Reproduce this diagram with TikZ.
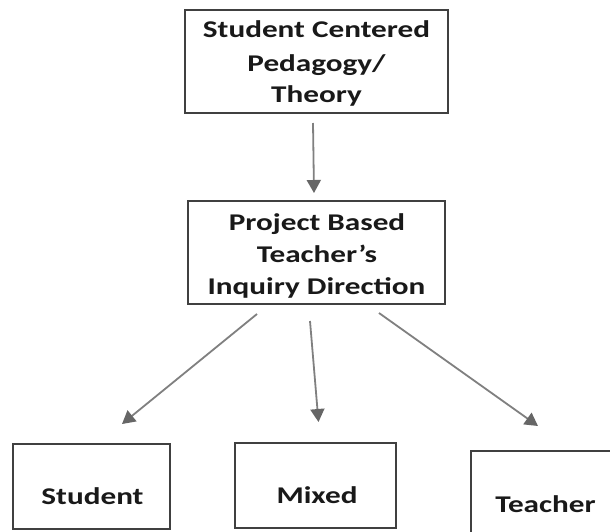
\documentclass[tikz,border=0pt]{standalone}
\usepackage{fontspec}
\setmainfont{Carlito}[FakeStretch=1.3]
\usetikzlibrary{arrows.meta}
\begin{document}
\begin{tikzpicture}[x=1pt,y=-1pt,
  boxshape/.style={draw=black!75, line width=1.6pt, inner sep=0pt, fill=white},
  lbl/.style={font=\fontsize{24}{24}\selectfont\bfseries, text=black!90, inner sep=0pt, anchor=base},
  flow/.style={draw=black!50, line width=1.8pt,
    -{Triangle[length=13pt,width=14pt,color=black!60,fill=black!60]}}]
  \clip (0,0) rectangle (610,531);
  \fill[white] (0,0) rectangle (610,531);

  % boxes
  \node[boxshape, minimum width=263pt, minimum height=103pt] (theory) at (316.5,61.5) {};
  \node[boxshape, minimum width=257pt, minimum height=103pt] (inquiry) at (316.5,252.5) {};
  \node[boxshape, minimum width=157pt, minimum height=85pt] (student) at (91.5,486.5) {};
  \node[boxshape, minimum width=161pt, minimum height=85pt] (mixed) at (315.5,485.5) {};
  \node[boxshape, minimum width=150pt, minimum height=90pt] (teacher) at (546,496) {};

  % labels
  \node[lbl] (t1) at (316.5,37.5) {Student Centered};
  \node[lbl] (t2) at (316.5,71.5) {Pedagogy/};
  \node[lbl] (t3) at (316.5,102.5) {Theory};
  \node[lbl] (i1) at (317,230.5) {Project Based};
  \node[lbl] (i2) at (317,262) {Teacher’s};
  \node[lbl] (i3) at (316.5,294) {Inquiry Direction};
  \node[lbl] (sl) at (92.5,504.5) {Student};
  \node[lbl] (ml) at (317,503) {Mixed};
  \node[lbl] (tl) at (545.5,512) {Teacher};

  % connector end points
  \coordinate (a0) at (313,123);
  \coordinate (a1) at (314,193);
  \coordinate (b0) at (257,314);
  \coordinate (b1) at (122,424);
  \coordinate (c0) at (310,321);
  \coordinate (c1) at (318.5,422);
  \coordinate (d0) at (379,313);
  \coordinate (d1) at (538,426);

  \draw[flow] (a0) -- (a1);
  \draw[flow] (b0) -- (b1);
  \draw[flow] (c0) -- (c1);
  \draw[flow] (d0) -- (d1);
\end{tikzpicture}
\end{document}
